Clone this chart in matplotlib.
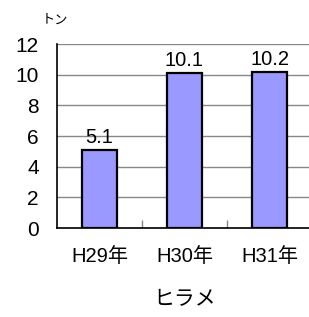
#!/usr/bin/env python3
"""ヒラメ bar chart (H29-H31)."""

import matplotlib
matplotlib.use("Agg")
import matplotlib.pyplot as plt

plt.rcParams["font.family"] = ["Liberation Sans", "Noto Sans CJK JP"]

BAR = "#9999ff"
GRID = "#888888"

years = ["H29年", "H30年", "H31年"]
catch = [5.1, 10.1, 10.2]
yticks = [0, 2, 4, 6, 8, 10, 12]

fig = plt.figure(figsize=(3.09, 3.17), dpi=100)
ax = fig.add_axes([57 / 309, 1 - 228 / 317, 255 / 309, 184 / 317])

x = list(range(len(years)))
ax.bar(x, catch, width=0.41, color=BAR, edgecolor="black", linewidth=1.6, zorder=3)

for xi, v in zip(x, catch):
    ax.annotate(f"{v:.1f}", xy=(xi, v), xytext=(0, 2), textcoords="offset points",
                ha="center", va="bottom", fontsize=14.5)

ax.set_xlim(-0.5, 2.5)
ax.set_ylim(0, 12)
ax.set_yticks(yticks)
ax.set_yticklabels([str(t) for t in yticks], fontsize=15)
ax.set_xticks(x)
ax.set_xticklabels(years, fontsize=14.5)
ax.tick_params(axis="x", length=0, pad=14)
ax.tick_params(axis="y", length=0, pad=13)

# small inward ticks between categories
ax.set_xticks([0.5, 1.5], minor=True)
ax.tick_params(axis="x", which="minor", direction="in", length=6, color=GRID, width=1)

ax.grid(axis="y", color=GRID, linewidth=1, zorder=0)
ax.spines["top"].set_visible(False)
ax.spines["right"].set_visible(False)
ax.spines["left"].set_color("black")
ax.spines["bottom"].set_color("black")
ax.spines["left"].set_linewidth(1.2)
ax.spines["bottom"].set_linewidth(1.2)

ax.set_xlabel("ヒラメ", fontsize=15, labelpad=16)
fig.text(42 / 309, 1 - 21 / 317, "トン", fontsize=9.5, va="center", ha="left")

fig.savefig("out.png", dpi=100)
